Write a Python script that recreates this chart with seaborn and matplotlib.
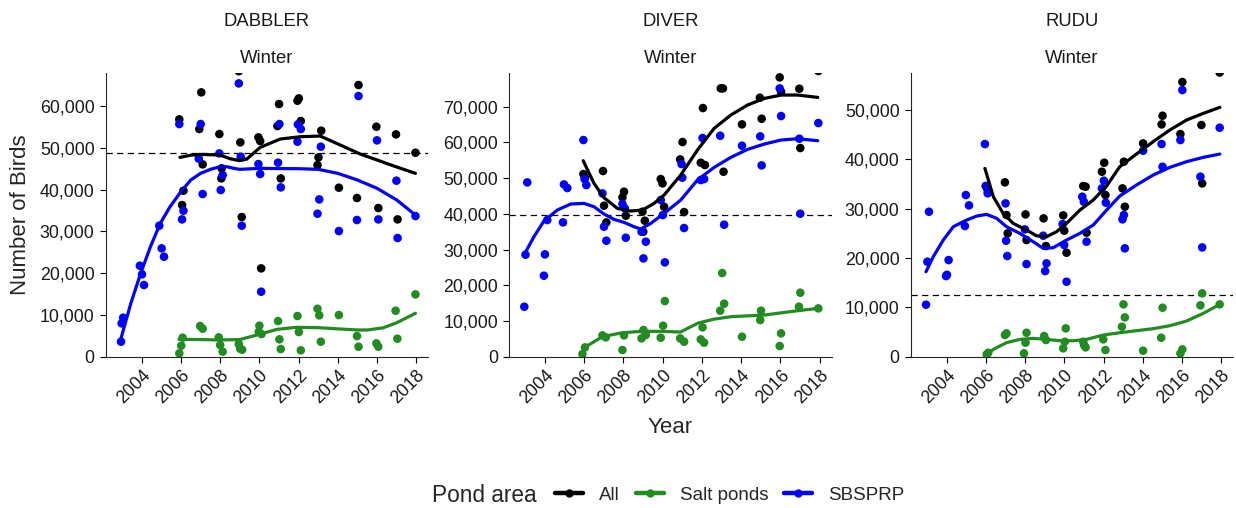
import numpy as np
import pandas as pd
import matplotlib
matplotlib.use("Agg")
import matplotlib.pyplot as plt
from matplotlib.lines import Line2D
from matplotlib.ticker import FuncFormatter, MultipleLocator
import seaborn as sns

# ---------------------------------------------------------------- survey counts
# DABBLER
dab_all_x = [2005.92, 2006.06, 2006.13, 2006.94, 2007.04, 2007.11, 2007.96, 2008.06, 2008.08,
             2008.95, 2009.03, 2009.10, 2009.95, 2010.04, 2010.09, 2010.92, 2011.00, 2011.09,
             2011.94, 2012.01, 2012.11, 2012.96, 2013.01, 2013.15, 2014.05, 2014.97, 2015.05,
             2015.96, 2016.06, 2016.96, 2017.04, 2017.95]
dab_all_y = [56780, 36280, 39710, 54470, 63240, 46010, 53270, 42660, 45060,
             68300, 51280, 33410, 52470, 51590, 21130, 55180, 60450, 42660,
             61240, 61800, 56380, 45850, 47690, 54070, 40430, 37960, 64990,
             55020, 35570, 53190, 32850, 48800]
dab_salt_x = [2005.92, 2006.02, 2006.09, 2006.98, 2007.11, 2007.93, 2008.00, 2008.13, 2008.95,
              2009.02, 2009.12, 2009.97, 2010.00, 2010.11, 2010.95, 2011.02, 2011.09, 2011.94,
              2012.01, 2012.11, 2012.96, 2013.05, 2013.13, 2014.05, 2014.97, 2015.05, 2015.96,
              2016.06, 2016.94, 2017.03, 2017.95]
dab_salt_y = [800, 2630, 4550, 7340, 6700, 4630, 2790, 1200, 3030,
              1910, 1670, 5980, 7420, 5420, 8530, 4150, 1830, 9730,
              5900, 1520, 11480, 9890, 3590, 9970, 4940, 2390, 3190,
              2390, 11000, 4310, 14910]
dab_sbs_x = [2002.95, 2002.98, 2003.06, 2003.91, 2004.02, 2004.12, 2004.90, 2005.02, 2005.14,
             2005.92, 2006.06, 2006.13, 2006.91, 2007.01, 2007.11, 2007.96, 2008.03, 2008.13,
             2008.95, 2009.05, 2009.10, 2009.95, 2010.04, 2010.09, 2010.95, 2011.02, 2011.09,
             2011.94, 2011.96, 2012.11, 2012.96, 2013.05, 2013.13, 2014.05, 2014.97, 2015.05,
             2015.99, 2016.06, 2016.98, 2017.04, 2017.95]
dab_sbs_y = [3590, 7970, 9330, 21770, 19700, 17150, 31340, 25920, 23920,
             55660, 32850, 34930, 47370, 55660, 38920, 48640, 39870, 43460,
             65390, 47850, 31340, 46090, 43700, 15550, 46410, 55660, 40510,
             51440, 55580, 54470, 34210, 37640, 50240, 30060, 32700, 62360,
             51750, 32850, 42110, 28390, 33650]

# DIVER
div_all_x = [2005.96, 2006.04, 2006.96, 2007.01, 2007.13, 2007.95, 2008.03, 2008.12,
             2008.97, 2009.01, 2009.09, 2009.90, 2009.99, 2010.07, 2010.89, 2011.01, 2011.09,
             2011.94, 2012.05, 2012.15, 2012.96, 2013.07, 2013.10, 2014.04, 2014.95, 2015.04,
             2015.96, 2016.03, 2016.96, 2017.01, 2017.93]
div_all_y = [51150, 50100, 51990, 42280, 37610, 44610, 46200, 39480,
             40600, 35000, 38080, 49750, 48530, 42000, 55250, 60110, 40510,
             54320, 69630, 53670, 75130, 75130, 51800, 65060, 72520, 66640,
             78220, 74200, 75040, 58430, 80000]
div_salt_x = [2005.91, 2006.04, 2006.93, 2007.10, 2007.95, 2008.03, 2008.92, 2009.02, 2009.14,
              2009.90, 2010.02, 2010.11, 2010.89, 2011.09, 2011.94, 2012.03, 2012.11, 2012.93,
              2013.03, 2013.13, 2014.04, 2014.97, 2015.01, 2015.96, 2016.03, 2016.94, 2017.01,
              2017.93]
div_salt_y = [750, 2610, 5970, 5410, 1870, 5970, 5130, 7470, 6070,
              5320, 8680, 15590, 5130, 4200, 4850, 8210, 3920, 12880,
              23430, 14840, 5600, 10270, 12880, 2990, 6530, 14000, 17920,
              13530]
div_sbs_x = [2002.95, 2003.01, 2003.10, 2003.95, 2004.00, 2004.12, 2004.92, 2004.97, 2005.14,
             2005.96, 2006.02, 2006.11, 2006.93, 2007.01, 2007.13, 2007.95, 2008.07, 2008.12,
             2008.92, 2009.02, 2009.14, 2009.90, 2010.01, 2010.11, 2010.96, 2011.00, 2011.09,
             2011.94, 2012.03, 2012.11, 2012.93, 2013.13, 2014.04, 2014.97, 2015.04, 2015.96,
             2016.03, 2016.96, 2017.01, 2017.93]
div_sbs_y = [14000, 28560, 48810, 22680, 28650, 38270, 37610, 48250, 47230,
             60670, 49750, 48070, 45730, 36400, 32480, 42750, 41530, 33320,
             35000, 27530, 32200, 43870, 39670, 26410, 53950, 50120, 36030,
             49470, 61230, 49750, 61880, 36960, 59080, 61690, 53580, 75130,
             67390, 61040, 40040, 65430]

# RUDU
rud_all_x = [2005.99, 2006.09, 2006.97, 2007.05, 2007.11, 2008.02, 2008.07, 2008.94, 2009.06,
             2009.94, 2009.99, 2010.11, 2010.96, 2011.08, 2011.13, 2011.91, 2012.03, 2012.09,
             2012.96, 2013.03, 2013.08, 2014.01, 2014.95, 2015.00, 2015.91, 2016.01, 2016.98,
             2017.02, 2017.91]
rud_all_y = [34590, 33780, 35340, 28720, 25000, 28850, 23650, 28040, 22430,
             28650, 25540, 21080, 34590, 34460, 25140, 37500, 39320, 32770,
             34120, 39530, 30410, 43240, 47090, 48850, 45140, 55680, 46960,
             35140, 57600]
rud_salt_x = [2006.04, 2006.12, 2006.97, 2007.05, 2007.94, 2008.02, 2008.07, 2008.97, 2009.06,
              2009.94, 2010.02, 2010.07, 2010.96, 2011.00, 2011.08, 2011.98, 2012.09, 2012.93,
              2013.01, 2013.08, 2014.01, 2014.93, 2015.00, 2015.91, 2016.01, 2016.93, 2017.02,
              2017.91]
rud_salt_y = [470, 800, 4390, 4730, 680, 2840, 4860, 4190, 3380,
              1690, 3040, 5740, 3040, 2360, 1890, 3510, 1350, 6080,
              10610, 7970, 1220, 3850, 9930, 680, 1490, 10410, 12840,
              10610]
rud_sbs_x = [2002.95, 2003.02, 2003.10, 2003.97, 2004.02, 2004.10, 2004.93, 2004.98, 2005.14,
             2005.95, 2006.02, 2006.09, 2007.00, 2007.03, 2007.09, 2007.99, 2008.07, 2008.92,
             2009.02, 2009.09, 2009.91, 2009.99, 2010.11, 2010.91, 2010.99, 2011.13, 2011.91,
             2012.01, 2012.11, 2012.96, 2013.03, 2013.08, 2014.01, 2014.95, 2015.00, 2015.91,
             2016.01, 2016.93, 2017.02, 2017.91]
rud_sbs_y = [10540, 19260, 29390, 16350, 16600, 19590, 26490, 32770, 30680,
             43110, 34600, 33120, 31080, 23510, 20410, 25810, 18780, 24530,
             17360, 18920, 26890, 22640, 15200, 32430, 31420, 23310, 34120,
             35680, 31220, 27840, 28720, 21960, 41760, 43110, 38510, 43920,
             54050, 36490, 22160, 46420]

# ---------------------------------------------------------------- loess trend values
dab_all_fit_x = [2005.95, 2006.5, 2006.97, 2008.0, 2008.5, 2009.0, 2009.36, 2010.04, 2011.06,
                 2012.08, 2013.1, 2014.12, 2015.14, 2016.0, 2016.85, 2017.95]
dab_all_fit_y = [47690, 48200, 48400, 48250, 47370, 46890, 47290, 50080, 52070,
                 52630, 52790, 50640, 48480, 47050, 45620, 43860]
dab_salt_fit_x = [2005.9, 2007.0, 2008.0, 2009.0, 2009.87, 2010.9, 2011.9, 2013.0, 2014.0,
                  2015.0, 2015.5, 2016.3, 2017.0, 2017.95]
dab_salt_fit_y = [4160, 4100, 4000, 4100, 5190, 6550, 7030, 6950, 6650,
                  6400, 6390, 6900, 8130, 10380]
dab_sbs_fit_x = [2002.95, 2003.45, 2003.95, 2004.45, 2004.95, 2005.45, 2006.0, 2006.5, 2007.0,
                 2007.5, 2008.0, 2008.35, 2008.7, 2009.0, 2010.0, 2011.0, 2012.0, 2013.0,
                 2014.0, 2015.0, 2016.0, 2017.0, 2017.95]
dab_sbs_fit_y = [4390, 12760, 19940, 26320, 31900, 35890, 39470, 42260, 43860,
                 44820, 45450, 45450, 45060, 44820, 45060, 45000, 44980, 44820,
                 43860, 42260, 40270, 37480, 33890]

div_all_fit_x = [2005.95, 2006.5, 2007.01, 2007.69, 2008.37, 2008.97, 2009.56, 2010.07, 2010.92,
                 2011.77, 2012.62, 2013.47, 2014.32, 2015.18, 2016.03, 2016.88, 2017.9]
div_all_fit_y = [54880, 48530, 44520, 41530, 40790, 41070, 42930, 45270, 50870,
                 57870, 63940, 67670, 70470, 72330, 73270, 73270, 72610]
div_salt_fit_x = [2005.85, 2006.08, 2006.93, 2007.95, 2008.97, 2010.0, 2010.9, 2011.4, 2011.8,
                  2012.6, 2013.47, 2015.18, 2016.88, 2017.9]
div_salt_fit_y = [300, 2800, 5600, 6720, 7100, 7100, 6900, 8300, 9400,
                  10500, 11200, 11670, 12880, 13530]
div_sbs_fit_x = [2002.98, 2003.44, 2003.95, 2004.63, 2005.31, 2005.99, 2006.5, 2007.01, 2007.52,
                 2008.03, 2008.54, 2008.88, 2009.39, 2010.07, 2010.92, 2011.77, 2012.62, 2013.47,
                 2014.32, 2015.18, 2016.03, 2016.88, 2017.9]
div_sbs_fit_y = [28930, 33600, 37990, 41070, 42750, 42930, 42000, 39950, 38450,
                 37610, 36400, 35750, 37330, 40130, 43870, 49470, 53010, 55810,
                 58050, 59550, 60670, 61040, 60480]

rud_all_fit_x = [2005.95, 2006.38, 2006.88, 2007.39, 2008.07, 2008.58, 2009.09, 2009.6, 2010.11,
                 2010.79, 2011.47, 2012.15, 2012.82, 2013.67, 2014.52, 2015.37, 2016.22,
                 2017.07, 2017.92]
rud_all_fit_y = [38180, 32430, 29050, 27030, 25680, 24500, 24320, 25340, 27030,
                 29730, 31760, 34590, 38510, 41080, 43580, 45950, 47970,
                 49320, 50540]
rud_salt_fit_x = [2005.95, 2006.38, 2007.05, 2007.73, 2008.41, 2009.09, 2009.77, 2010.45, 2011.13,
                  2011.98, 2012.82, 2013.67, 2014.52, 2015.37, 2016.22, 2017.07, 2017.92]
rud_salt_fit_y = [140, 1490, 2840, 3510, 3720, 3510, 3240, 3240, 3510,
                  4390, 4860, 5270, 5680, 6280, 7230, 8780, 10610]
rud_sbs_fit_x = [2002.95, 2003.32, 2003.83, 2004.34, 2005.02, 2005.53, 2006.04, 2006.55, 2007.05,
                 2007.73, 2008.41, 2008.92, 2009.43, 2010.11, 2010.79, 2011.47, 2012.15, 2012.82,
                 2013.67, 2014.52, 2015.37, 2016.22, 2017.07, 2017.92]
rud_sbs_fit_y = [17230, 20270, 23650, 26350, 27700, 28510, 28850, 28040, 26350,
                 25000, 23310, 21960, 22090, 23650, 25000, 26690, 29730, 32570,
                 34800, 36820, 38380, 39530, 40410, 41080]

# ---------------------------------------------------------------- panel settings
species = ["DABBLER", "DIVER", "RUDU"]
season = "Winter"
pond_areas = ["All", "Salt ponds", "SBSPRP"]
area_colors = {"All": "black", "Salt ponds": "#228B22", "SBSPRP": "#0000FF"}
reference_level = {"DABBLER": 48730, "DIVER": 39600, "RUDU": 12450}
y_upper = {"DABBLER": 67800, "DIVER": 79360, "RUDU": 57450}
year_ticks = [2004, 2006, 2008, 2010, 2012, 2014, 2016, 2018]

points = {
    "DABBLER": {"All": (dab_all_x, dab_all_y), "Salt ponds": (dab_salt_x, dab_salt_y),
                "SBSPRP": (dab_sbs_x, dab_sbs_y)},
    "DIVER": {"All": (div_all_x, div_all_y), "Salt ponds": (div_salt_x, div_salt_y),
              "SBSPRP": (div_sbs_x, div_sbs_y)},
    "RUDU": {"All": (rud_all_x, rud_all_y), "Salt ponds": (rud_salt_x, rud_salt_y),
             "SBSPRP": (rud_sbs_x, rud_sbs_y)},
}
trends = {
    "DABBLER": {"All": (dab_all_fit_x, dab_all_fit_y), "Salt ponds": (dab_salt_fit_x, dab_salt_fit_y),
                "SBSPRP": (dab_sbs_fit_x, dab_sbs_fit_y)},
    "DIVER": {"All": (div_all_fit_x, div_all_fit_y), "Salt ponds": (div_salt_fit_x, div_salt_fit_y),
              "SBSPRP": (div_sbs_fit_x, div_sbs_fit_y)},
    "RUDU": {"All": (rud_all_fit_x, rud_all_fit_y), "Salt ponds": (rud_salt_fit_x, rud_salt_fit_y),
             "SBSPRP": (rud_sbs_fit_x, rud_sbs_fit_y)},
}


def long_table(source):
    rows = []
    for sp, by_area in source.items():
        for area, (xs, ys) in by_area.items():
            for i, (x, y) in enumerate(zip(xs, ys)):
                rows.append({"species": sp, "area": area, "year": x, "birds": y, "order": i})
    return pd.DataFrame(rows)


counts = long_table(points)
smooth = long_table(trends)

# ---------------------------------------------------------------- drawing
sns.set_theme(style="ticks")
plt.rcParams["font.family"] = ["Liberation Sans", "DejaVu Sans"]
plt.rcParams["axes.linewidth"] = 0.8

W, H = 1236, 508
fig = plt.figure(figsize=(W / 100, H / 100), dpi=100)
panel_left = [105.7, 509.0, 910.7]
panel_w, panel_top, panel_bottom = 322.5, 73.3, 356.7

comma = FuncFormatter(lambda v, _: f"{int(round(v)):,}")

for sp, left in zip(species, panel_left):
    ax = fig.add_axes([left / W, 1 - panel_bottom / H, panel_w / W,
                       (panel_bottom - panel_top) / H])
    ax.axhline(reference_level[sp], color="black", lw=0.9, ls=(0, (5, 3.5)), zorder=1)
    pts = counts[counts.species == sp]
    fit = smooth[smooth.species == sp]
    sns.scatterplot(data=pts, x="year", y="birds", hue="area", hue_order=pond_areas,
                    palette=area_colors, s=38, linewidth=0, alpha=1, legend=False,
                    ax=ax, zorder=2)
    sns.lineplot(data=fit, x="year", y="birds", hue="area", hue_order=pond_areas,
                 palette=area_colors, units="area", estimator=None, sort=False,
                 lw=2.3, legend=False, ax=ax, zorder=3)
    ax.set_xlim(2002.17, 2018.6)
    ax.set_ylim(0, y_upper[sp])
    ax.set_xticks(year_ticks)
    ax.set_xticklabels([str(t) for t in year_ticks])
    ax.yaxis.set_major_locator(MultipleLocator(10000))
    ax.yaxis.set_major_formatter(comma)
    ax.tick_params(axis="both", length=4, width=0.8, color="black",
                   labelsize=12.8, labelcolor="#1a1a1a")
    ax.tick_params(axis="y", pad=4)
    ax.tick_params(axis="x", pad=3)
    for lab in ax.get_xticklabels():
        lab.set_rotation(45)
        lab.set_ha("right")
        lab.set_va("top")
        lab.set_rotation_mode("anchor")
    sns.despine(ax=ax)
    ax.set_xlabel("")
    ax.set_ylabel("")
    ax.text(0.5, (panel_bottom - 26) / (panel_bottom - panel_top), sp,
            transform=ax.transAxes, ha="center", va="baseline", fontsize=13.3,
            color="#1a1a1a")
    ax.text(0.5, (panel_bottom - 63.3) / (panel_bottom - panel_top), season,
            transform=ax.transAxes, ha="center", va="baseline", fontsize=13.3,
            color="#1a1a1a")

fig.text(21 / W, 1 - 215 / H, "Number of Birds", rotation=90, ha="center",
         va="center", fontsize=16)
fig.text((509 + panel_w / 2) / W, 1 - 433 / H, "Year", ha="center", va="baseline",
         fontsize=16)

# legend along the bottom
fig.text(431.7 / W, 1 - 502.5 / H, "Pond area", ha="left", va="baseline", fontsize=16.3)
handles = [Line2D([0], [0], color=area_colors[a], lw=3.2, marker="o", markersize=5)
           for a in pond_areas]
fig.legend(handles, pond_areas, loc="center left", bbox_to_anchor=(555 / W, 1 - 495 / H),
           ncol=3, frameon=False, fontsize=13.5, handlelength=1.5, handletextpad=0.85,
           columnspacing=0.85, borderpad=0, borderaxespad=0)

fig.savefig("out.png", dpi=100)
